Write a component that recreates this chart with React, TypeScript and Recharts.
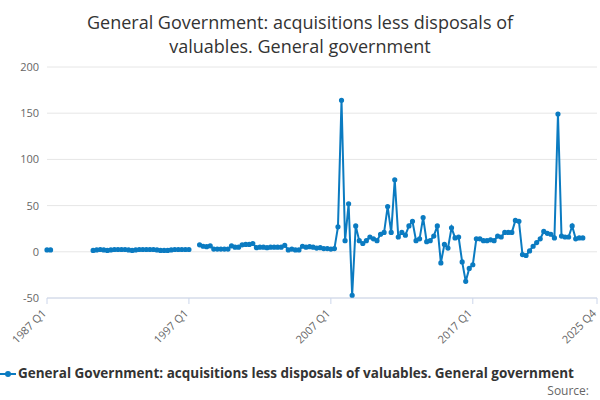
import { LineChart, Line, XAxis, YAxis, CartesianGrid } from "recharts";

const seg1 = [2, 2];
const seg2 = [
  1.5, 2, 2.5, 2, 1.5, 2, 2.5, 2.5, 2.5, 2.5, 2, 1.5, 2, 2.5, 2.5, 2.5, 2.5, 2.5, 2, 1.5,
  1.5, 1.5, 2, 2.5, 2.5, 2.5, 2.5, 2.5,
];
const seg3 = [
  7.6, 6, 5.5, 6.5, 3, 3, 3, 3, 3, 6.5, 5, 5, 7.5, 8, 8, 9, 4.5, 5, 5, 4.5, 5, 5, 5, 5, 7,
  2, 3, 2, 2, 6, 5, 5.5, 5, 4, 4.5, 3.5, 3.5, 3, 3.5, 27, 164, 12, 52, -47, 28, 12, 9, 12,
  16, 14, 12, 19, 21, 49, 21, 78, 16, 21, 18, 28, 33, 12, 14, 37, 11, 12, 17, 28, -12, 8,
  4, 26, 15, 16, -11, -32, -18, -14, 14, 14, 12, 12, 13, 12, 17, 16, 21, 21,
  21, 34, 33, -3, -4, 1, 6, 10, 14, 22, 20, 19, 15, 149, 17, 16, 16, 28, 14, 15, 15,
];
const values: (number | null)[] = [
  ...seg1,
  ...Array(11).fill(null),
  ...seg2,
  null,
  null,
  ...seg3,
];
while (values.length < 156) values.push(null);

const quarters = values.map((_, i) => `${1987 + Math.floor(i / 4)} Q${(i % 4) + 1}`);
const data = quarters.map((q, i) => ({ q, v: values[i] }));
const xTicks = ["1987 Q1", "1997 Q1", "2007 Q1", "2017 Q1", "2025 Q4"];
const yTicks = [-50, 0, 50, 100, 150, 200];

const font = "'Open Sans', 'DejaVu Sans', sans-serif";
const color = "#0b7bc1";

export default function App() {
  return (
    <div style={{ position: "absolute", left: 0, top: 0, width: 600, height: 400, background: "#fff", fontFamily: font }}>
      <div style={{ position: "absolute", top: 10, width: 600, textAlign: "center", fontSize: 18, color: "#333", lineHeight: "24px" }}>
        General Government: acquisitions less disposals of
        <br />
        valuables. General government
      </div>
      <LineChart width={600} height={400} data={data} margin={{ top: 67, right: 3, left: 7, bottom: 72 }}>
        <CartesianGrid vertical={false} stroke="#e6e6e6" />
        <XAxis
          dataKey="q"
          ticks={xTicks}
          interval={0}
          stroke="#ccd6eb"
          tick={(props: any) => (
            <text
              x={props.x}
              y={props.y + 8}
              textAnchor="end"
              fontSize={11}
              fill="#666"
              transform={`rotate(-45 ${props.x} ${props.y + 8})`}
            >
              {props.payload.value}
            </text>
          )}
        />
        <YAxis
          domain={[-50, 200]}
          ticks={yTicks}
          width={40}
          axisLine={false}
          tickLine={false}
          tick={{ fontSize: 11, fill: "#666" }}
        />
        <Line
          dataKey="v"
          stroke={color}
          strokeWidth={2}
          dot={{ r: 1.6, fill: color, stroke: color }}
          isAnimationActive={false}
        />
      </LineChart>
      <div style={{ position: "absolute", top: 364, left: 0, width: 600, overflow: "hidden", whiteSpace: "nowrap", fontSize: 13.5, fontWeight: "bold", color: "#333" }}>
        <svg width={16} height={10} style={{ verticalAlign: "middle", marginRight: 2 }}>
          <line x1={0} y1={5} x2={16} y2={5} stroke={color} strokeWidth={2} />
          <circle cx={8} cy={5} r={3} fill={color} />
        </svg>
        General Government: acquisitions less disposals of valuables. General government
      </div>
      <div style={{ position: "absolute", top: 382, right: 11, fontSize: 12, color: "#666" }}>Source:</div>
    </div>
  );
}
